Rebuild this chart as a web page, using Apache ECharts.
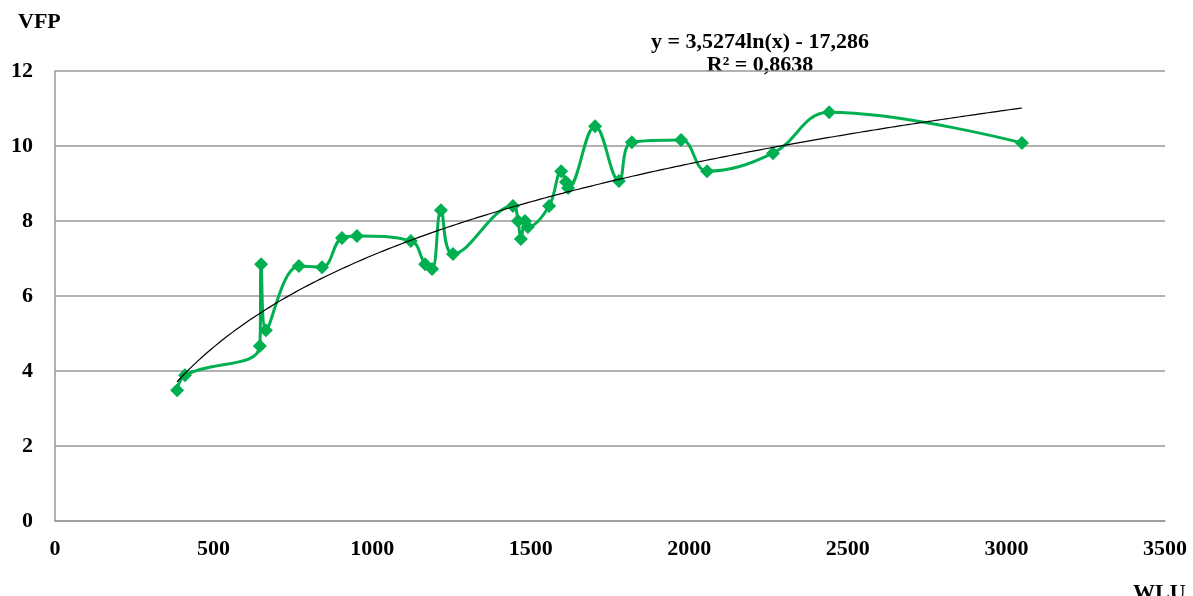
<!DOCTYPE html>
<html>
<head>
<meta charset="utf-8">
<script src="https://cdn.jsdelivr.net/npm/echarts@6/dist/echarts.min.js"></script>
<style>
html,body{margin:0;padding:0;background:#fff;}
#chart{width:1193px;height:596px;}
</style>
</head>
<body>
<div id="chart"></div>
<script>
// Data
const wlu = [385, 410, 646, 650, 665, 769, 842, 905, 952, 1122, 1167, 1189, 1217, 1255,
             1444, 1460, 1469, 1482, 1491, 1558, 1596, 1611, 1618, 1703, 1778, 1819,
             1974, 2056, 2264, 2441, 3049];
const vfp = [3.49, 3.89, 4.67, 6.85, 5.09, 6.80, 6.77, 7.55, 7.60, 7.47, 6.85, 6.72, 8.29, 7.12,
             8.40, 8.00, 7.52, 8.00, 7.84, 8.40, 9.33, 9.04, 8.88, 10.53, 9.07, 10.10,
             10.16, 9.33, 9.81, 10.90, 10.08];
const xTicks = [0, 500, 1000, 1500, 2000, 2500, 3000, 3500];
const yTicks = [0, 2, 4, 6, 8, 10, 12];
// Trendline coefficients as printed on the chart
const trendA = 3.5274, trendB = -17.286;
const eqText = ['y = 3,5274ln(x) - 17,286', 'R² = 0,8638'];

const points = wlu.map((x, i) => [x, vfp[i]]);
const xMin = Math.min(...wlu), xMax = Math.max(...wlu);
const trend = [];
for (let k = 0; k <= 200; k++) {
  const x = xMin + (xMax - xMin) * k / 200;
  trend.push([x, trendA * Math.log(x) + trendB]);
}

const font = '"Liberation Serif", "Times New Roman", serif';
const chart = echarts.init(document.getElementById('chart'));
chart.setOption({
  animation: false,
  backgroundColor: '#fff',
  grid: { left: 55, right: 28, top: 71, bottom: 75, containLabel: false },
  graphic: [
    { type: 'text', left: 18, top: 11, style: { text: 'VFP', font: 'bold 22px ' + font, fill: '#000' } },
    { type: 'text', left: 1133, top: 582, style: { text: 'WLU', font: 'bold 22px ' + font, fill: '#000' } },
    { type: 'text', x: 760, y: 31, style: { text: eqText[0], font: 'bold 22px ' + font, fill: '#000', align: 'center' } },
    { type: 'text', x: 760, y: 54, style: { text: eqText[1], font: 'bold 22px ' + font, fill: '#000', align: 'center' } }
  ],
  xAxis: {
    type: 'value', min: xTicks[0], max: xTicks[xTicks.length - 1], interval: 500,
    axisLine: { show: true, lineStyle: { color: '#999', width: 1.5 } },
    axisTick: { show: false },
    splitLine: { show: false },
    axisLabel: { color: '#000', fontFamily: font, fontWeight: 'bold', fontSize: 22, margin: 17,
                 formatter: v => String(v) }
  },
  yAxis: {
    type: 'value', min: yTicks[0], max: yTicks[yTicks.length - 1], interval: 2,
    axisLine: { show: true, lineStyle: { color: '#999', width: 1.5 } },
    axisTick: { show: false },
    splitLine: { show: true, lineStyle: { color: '#999', width: 1.5 } },
    axisLabel: { color: '#000', fontFamily: font, fontWeight: 'bold', fontSize: 22, margin: 22,
                 formatter: v => String(v) }
  },
  series: [
    {
      type: 'line', data: points, smooth: 0.4,
      symbol: 'diamond', symbolSize: 14,
      lineStyle: { color: '#00B050', width: 3 },
      itemStyle: { color: '#00B050' },
      z: 3
    },
    {
      type: 'line', data: trend, smooth: false, symbol: 'none',
      lineStyle: { color: '#000', width: 1.2 },
      z: 4
    }
  ]
});
</script>
</body>
</html>
